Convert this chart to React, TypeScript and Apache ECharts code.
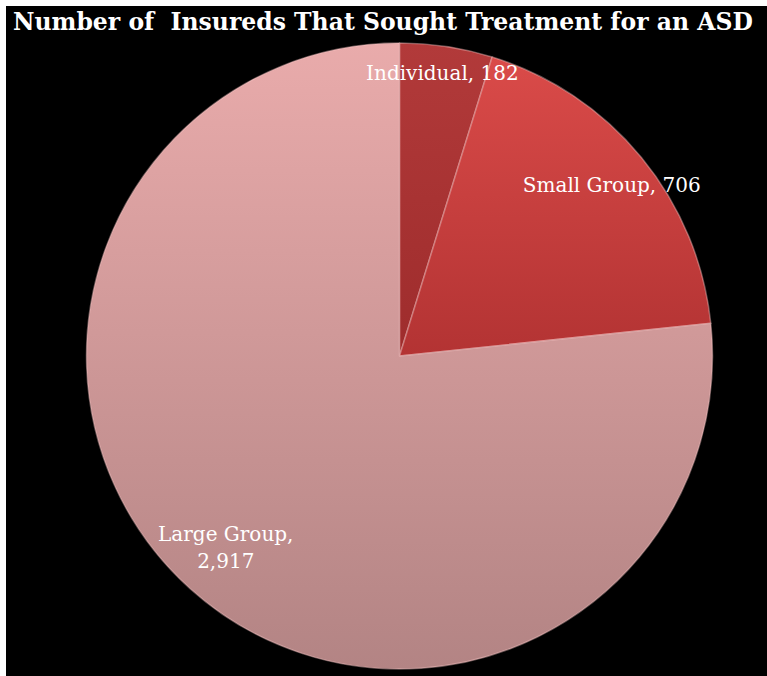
import React, { useEffect, useRef } from "react";
import * as echarts from "echarts";

const titleText = "Number of  Insureds That Sought Treatment for an ASD";
const categories = ["Individual", "Small Group", "Large Group"];
const values = [182, 706, 2917];
const valueLabels = ["182", "706", "2,917"];

const fills = [
  ["#b23a3a", "#9e2c2c"],
  ["#da4b49", "#b33333"],
  ["#e9abab", "#b38484"],
];
const labelOffsets: [number, number][] = [
  [19, -125],
  [89, -70],
  [-67, 73],
];

export default function App() {
  const ref = useRef<HTMLDivElement>(null);
  useEffect(() => {
    if (!ref.current) return;
    const chart = echarts.init(ref.current, undefined, { renderer: "svg" });
    chart.setOption({
      animation: false,
      backgroundColor: "#000000",
      title: {
        text: titleText,
        left: 2,
        top: -1,
        textStyle: {
          color: "#ffffff",
          fontFamily: "DejaVu Serif",
          fontWeight: "bold",
          fontSize: 23.5,
        },
      },
      series: [
        {
          type: "pie",
          center: [393.5, 350],
          radius: [0, 313],
          startAngle: 90,
          clockwise: true,
          label: {
            show: true,
            position: "inside",
            color: "#ffffff",
            fontFamily: "DejaVu Serif",
            fontSize: 20,
            lineHeight: 27,
            align: "center",
          },
          labelLine: { show: false },
          itemStyle: {
            borderColor: "rgba(255,205,205,0.4)",
            borderWidth: 1.5,
          },
          data: categories.map((c, i) => ({
            name: c,
            value: values[i],
            label: {
              formatter: i === 2 ? `${c},\n${valueLabels[i]}` : `${c}, ${valueLabels[i]}`,
              offset: labelOffsets[i],
            },
            itemStyle: {
              color: new echarts.graphic.LinearGradient(0, 0, 0, 1, [
                { offset: 0, color: fills[i][0] },
                { offset: 1, color: fills[i][1] },
              ]),
            },
          })),
        },
      ],
    });
    return () => chart.dispose();
  }, []);
  return (
    <div style={{ position: "fixed", left: 0, top: 0, width: 767, height: 676, background: "#ffffff" }}>
      <div ref={ref} style={{ position: "absolute", left: 6, top: 6, width: 761, height: 670 }} />
    </div>
  );
}
